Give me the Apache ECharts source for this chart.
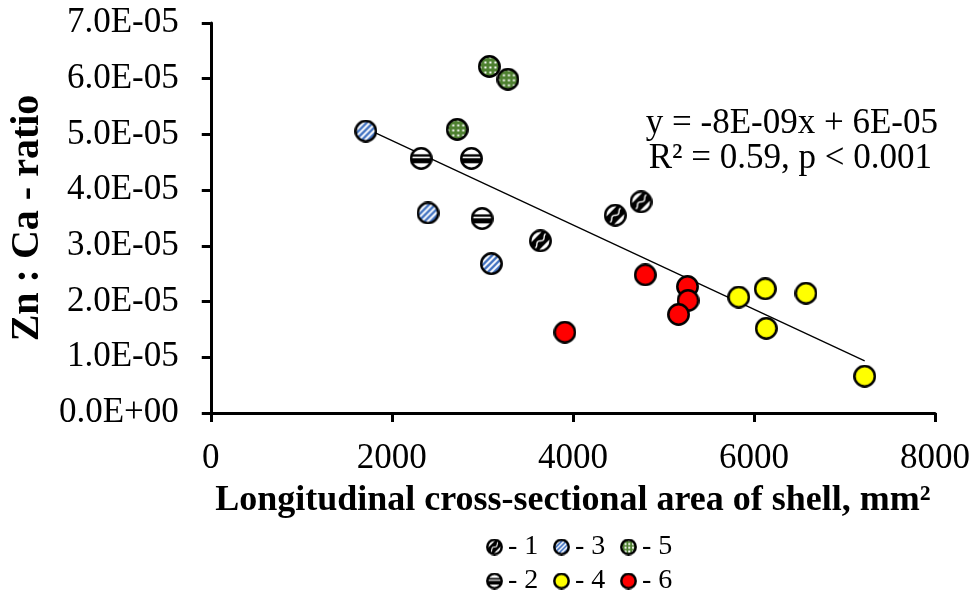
<!DOCTYPE html>
<html>
<head>
<meta charset="utf-8">
<script src="https://cdn.jsdelivr.net/npm/echarts@6/dist/echarts.min.js"></script>
<style>
  html, body { margin: 0; padding: 0; background: #fff; }
  #chart { width: 973px; height: 599px; }
</style>
</head>
<body>
<div id="chart"></div>
<script>
// 数据：各组 (面积 mm², Zn:Ca)
const group1 = [[3641, 3.09e-5], [4468, 3.55e-5], [4753, 3.79e-5]]
const group2 = [[2324, 4.57e-5], [2879, 4.57e-5], [2997, 3.49e-5]]
const group3 = [[1712, 5.06e-5], [2400, 3.59e-5], [3099, 2.68e-5]]
const group4 = [[5832, 2.08e-5], [6125, 2.23e-5], [6575, 2.15e-5], [6136, 1.52e-5], [7223, 0.66e-5]]
const group5 = [[3077, 6.22e-5], [3282, 5.99e-5], [2722, 5.09e-5]]
const group6 = [[4800, 2.48e-5], [5266, 2.27e-5], [5272, 2.02e-5], [5167, 1.77e-5], [3911, 1.45e-5]]
// 趋势线两端点
const trendLine = [[1712, 5.11e-5], [7223, 0.934e-5]]
const groupNames = ['1', '2', '3', '4', '5', '6']
const equationLines = ['y = -8E-09x + 6E-05', 'R² = 0.59, p < 0.001']

const FONT = "'Liberation Serif', 'Times New Roman', serif"

// 画带图案的圆形标记
const makeSymbol = (size, paint) => {
  const c = document.createElement('canvas')
  c.width = size
  c.height = size
  const ctx = c.getContext('2d')
  const r = size / 2 - 1.3
  const cx = size / 2
  ctx.save()
  ctx.beginPath()
  ctx.arc(cx, cx, r, 0, Math.PI * 2)
  ctx.clip()
  paint(ctx, size)
  ctx.restore()
  ctx.beginPath()
  ctx.arc(cx, cx, r, 0, Math.PI * 2)
  ctx.lineWidth = 2.5
  ctx.strokeStyle = '#000'
  ctx.stroke()
  return 'image://' + c.toDataURL()
}

const paints = {
  // 波浪斜带
  '1': (ctx, s) => {
    ctx.fillStyle = '#fff'
    ctx.fillRect(0, 0, s, s)
    ctx.save()
    ctx.translate(s / 2, s / 2)
    ctx.rotate(-Math.PI / 4)
    ctx.fillStyle = '#000'
    ctx.fillRect(-s, -s * 0.24, 2 * s, s * 0.48)
    ctx.strokeStyle = '#fff'
    ctx.lineWidth = s * 0.06
    ctx.beginPath()
    for (let x = -s; x <= s; x += 1) {
      const y = Math.sin(x / s * 14) * s * 0.06
      if (x === -s) ctx.moveTo(x, y)
      else ctx.lineTo(x, y)
    }
    ctx.stroke()
    ctx.restore()
  },
  // 横条
  '2': (ctx, s) => {
    ctx.fillStyle = '#fff'
    ctx.fillRect(0, 0, s, s)
    ctx.fillStyle = '#000'
    ctx.fillRect(0, s * 0.32, s, s * 0.1)
    ctx.fillRect(0, s * 0.49, s, s * 0.22)
  },
  // 蓝白斜纹
  '3': (ctx, s) => {
    ctx.fillStyle = '#3e70c0'
    ctx.fillRect(0, 0, s, s)
    ctx.strokeStyle = '#fff'
    ctx.lineWidth = s * 0.09
    for (let k = -s; k < 2 * s; k += s * 0.27) {
      ctx.beginPath()
      ctx.moveTo(k, s)
      ctx.lineTo(k + s, 0)
      ctx.stroke()
    }
  },
  '4': (ctx, s) => {
    ctx.fillStyle = '#ffff00'
    ctx.fillRect(0, 0, s, s)
  },
  // 绿底白点
  '5': (ctx, s) => {
    ctx.fillStyle = '#4e8030'
    ctx.fillRect(0, 0, s, s)
    ctx.fillStyle = '#fff'
    const step = s / 4.6
    for (let y = step / 2; y < s; y += step) {
      for (let x = step / 2; x < s; x += step) {
        ctx.fillRect(x - 1, y - 1, 2, 2)
      }
    }
  },
  '6': (ctx, s) => {
    ctx.fillStyle = '#ff0000'
    ctx.fillRect(0, 0, s, s)
  }
}

const groupData = [group1, group2, group3, group4, group5, group6]
const markerSymbols = {}
const legendSymbols = {}
groupNames.forEach(n => {
  markerSymbols[n] = makeSymbol(23, paints[n])
  legendSymbols[n] = makeSymbol(17, paints[n])
})

// 科学计数法刻度
const sci = v => {
  if (Math.abs(v) < 1e-12) return '0.0E+00'
  const e = Math.floor(Math.log10(Math.abs(v)) + 1e-9)
  const m = v / Math.pow(10, e)
  return m.toFixed(1) + 'E' + (e < 0 ? '-' : '+') + String(Math.abs(e)).padStart(2, '0')
}

// 图例位置（两行三列）
const legendPos = {
  '1': [481, 528], '3': [548, 528], '5': [615, 528],
  '2': [481, 562], '4': [548, 562], '6': [615, 562]
}

const chart = echarts.init(document.getElementById('chart'))
chart.setOption({
  animation: false,
  grid: { left: 207, right: 37, top: 23, bottom: 186 },
  xAxis: {
    type: 'value',
    min: 0,
    max: 8000,
    interval: 2000,
    name: 'Longitudinal cross-sectional area of shell, mm²',
    nameLocation: 'middle',
    nameGap: 70,
    nameTextStyle: { fontFamily: FONT, fontSize: 36, fontWeight: 'bold', color: '#000' },
    axisLine: { lineStyle: { color: '#000', width: 3 } },
    axisTick: { length: 9, lineStyle: { color: '#000', width: 3 } },
    axisLabel: { fontFamily: FONT, fontSize: 35, color: '#000', margin: 28, formatter: v => String(v) },
    splitLine: { show: false }
  },
  yAxis: {
    type: 'value',
    min: 0,
    max: 7e-5,
    interval: 1e-5,
    name: 'Zn : Ca - ratio',
    nameLocation: 'middle',
    nameGap: 156,
    nameTextStyle: { fontFamily: FONT, fontSize: 40, fontWeight: 'bold', color: '#000' },
    axisLine: { show: true, lineStyle: { color: '#000', width: 3 } },
    axisTick: { show: true, length: 9, lineStyle: { color: '#000', width: 3 } },
    axisLabel: { fontFamily: FONT, fontSize: 35, color: '#000', margin: 32, formatter: sci },
    splitLine: { show: false }
  },
  legend: groupNames.map(n => ({
    left: legendPos[n][0],
    top: legendPos[n][1],
    itemWidth: 17,
    itemHeight: 17,
    itemGap: 0,
    selectedMode: false,
    data: [{ name: n, icon: legendSymbols[n] }],
    formatter: '- {name}',
    textStyle: { fontFamily: FONT, fontSize: 28, color: '#000' }
  })),
  graphic: equationLines.map((t, i) => ({
    type: 'text',
    right: i === 0 ? 35 : 41,
    top: i === 0 ? 106 : 141,
    style: { text: t, font: '35px ' + FONT, fill: '#000' }
  })),
  series: [
    {
      type: 'line',
      data: trendLine,
      symbol: 'none',
      lineStyle: { color: '#000', width: 1.3 },
      z: 1
    },
    ...groupNames.map((n, i) => ({
      name: n,
      type: 'scatter',
      data: groupData[i],
      symbol: markerSymbols[n],
      symbolSize: 23,
      itemStyle: { opacity: 1 },
      z: 3
    }))
  ]
})
</script>
</body>
</html>
